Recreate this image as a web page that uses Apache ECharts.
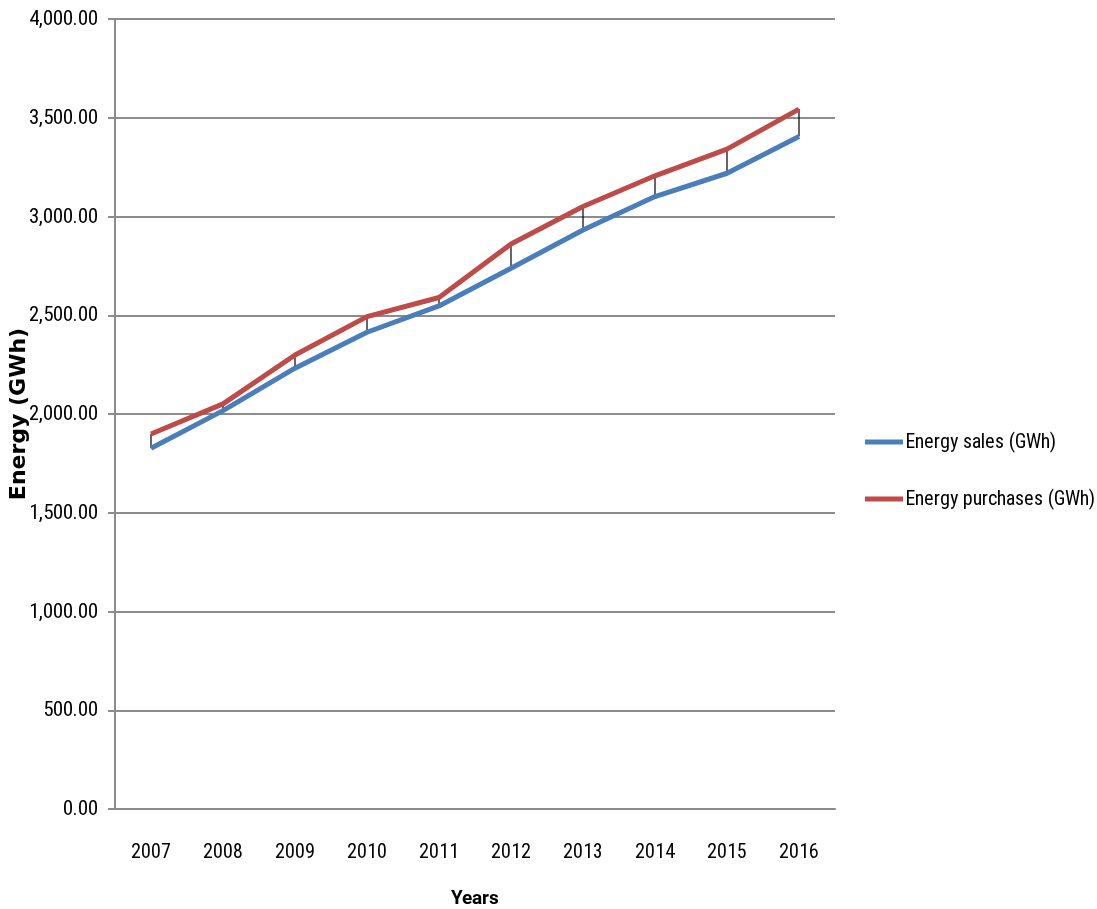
<!DOCTYPE html>
<html>
<head>
<meta charset="utf-8">
<script src="https://cdn.jsdelivr.net/npm/echarts@6/dist/echarts.min.js"></script>
<style>
html,body{margin:0;padding:0;background:#fff;overflow:hidden;}
#chart{width:1097px;height:909px;}
@font-face{font-family:'NarrowX';font-weight:400;src:local('Liberation Sans Narrow'),local('LiberationSansNarrow'),local('LiberationSansNarrow-Regular'),local('Roboto Condensed'),local('RobotoCondensed-Regular'),local('Roboto Condensed Regular'),local('Noto Sans Condensed'),local('NotoSans-Condensed'),local('Open Sans Condensed'),local('DejaVu Sans Condensed'),local('DejaVuSansCondensed');}
@font-face{font-family:'NarrowX';font-weight:700;src:local('Liberation Sans Narrow Bold'),local('LiberationSansNarrow-Bold'),local('Roboto Condensed Bold'),local('RobotoCondensed-Bold'),local('Noto Sans Condensed Bold'),local('NotoSans-CondensedBold'),local('Open Sans Condensed Bold'),local('OpenSansCondensed-Bold'),local('DejaVu Sans Condensed Bold'),local('DejaVuSansCondensed-Bold');}
</style>
</head>
<body>
<div id="chart"></div>
<script>
const years = ['2007','2008','2009','2010','2011','2012','2013','2014','2015','2016'];
const energySales = [1827, 2017, 2232, 2414, 2547, 2738, 2932, 3101, 3219, 3405];
const energyPurchases = [1899, 2051, 2299, 2493, 2590, 2861, 3051, 3206, 3341, 3544];
const seriesNames = ['Energy sales (GWh)', 'Energy purchases (GWh)'];

const narrow = "NarrowX, 'Liberation Sans Narrow', 'Roboto Condensed', 'DejaVu Sans Condensed', sans-serif";

function draw() {
  const chart = echarts.init(document.getElementById('chart'));
  const hiLo = years.map((y, i) => [i, energySales[i], energyPurchases[i]]);
  chart.setOption({
    animation: false,
    backgroundColor: '#fff',
    grid: { left: 115, right: 262, top: 19, bottom: 100, containLabel: false, outerBoundsMode: 'none' },
    legend: {
      orient: 'vertical',
      left: 860,
      top: 426,
      itemGap: 35,
      itemWidth: 38,
      itemHeight: 5,
      icon: 'rect',
      data: seriesNames,
      textStyle: { fontFamily: narrow, fontSize: 20, color: '#000', lineHeight: 22, padding: [0,0,0,-3] }
    },
    xAxis: {
      type: 'category',
      data: years,
      boundaryGap: true,
      name: 'Years',
      nameLocation: 'middle',
      nameGap: 81,
      nameTextStyle: { fontFamily: narrow, fontWeight: 'bold', fontSize: 19, color: '#000' },
      axisLine: { lineStyle: { color: '#8c8c8c', width: 2 } },
      axisTick: { show: false },
      axisLabel: { fontFamily: narrow, fontSize: 20, color: '#000', margin: 33 }
    },
    yAxis: {
      type: 'value',
      min: 0,
      max: 4000,
      interval: 500,
      name: 'Energy (GWh)',
      nameLocation: 'middle',
      nameGap: 85,
      nameMoveOverlap: false,
      nameRotate: 90,
      nameTextStyle: { fontFamily: "'DejaVu Sans', sans-serif", fontWeight: 'bold', fontSize: 22, color: '#000' },
      axisLine: { show: true, lineStyle: { color: '#8c8c8c', width: 2 } },
      axisTick: { show: true, inside: false, length: 7, lineStyle: { color: '#8c8c8c', width: 2 } },
      axisLabel: {
        fontFamily: narrow, fontSize: 21, color: '#000', margin: 17,
        formatter: v => v.toLocaleString('en-US', { minimumFractionDigits: 2, maximumFractionDigits: 2 })
      },
      splitLine: { show: true, lineStyle: { color: '#8c8c8c', width: 2 } }
    },
    series: [
      {
        type: 'custom',
        name: 'hilo',
        data: hiLo,
        z: 1,
        silent: true,
        renderItem: function (params, api) {
          const a = api.coord([api.value(0), api.value(1)]);
          const b = api.coord([api.value(0), api.value(2)]);
          return {
            type: 'line',
            shape: { x1: a[0], y1: a[1], x2: b[0], y2: b[1] },
            style: { stroke: '#000', lineWidth: 1.2 }
          };
        }
      },
      {
        type: 'line',
        name: seriesNames[0],
        data: energySales,
        z: 3,
        symbol: 'none',
        lineStyle: { color: '#4a7ebb', width: 5 },
        itemStyle: { color: '#4a7ebb' }
      },
      {
        type: 'line',
        name: seriesNames[1],
        data: energyPurchases,
        z: 2,
        symbol: 'none',
        lineStyle: { color: '#be4b48', width: 5 },
        itemStyle: { color: '#be4b48' }
      }
    ]
  });
}

let done = false;
function go() { if (!done) { done = true; draw(); } }
Promise.all([
  document.fonts.load("21px NarrowX"),
  document.fonts.load("bold 21px NarrowX")
]).then(go, go);
setTimeout(go, 1500);
</script>
</body>
</html>
